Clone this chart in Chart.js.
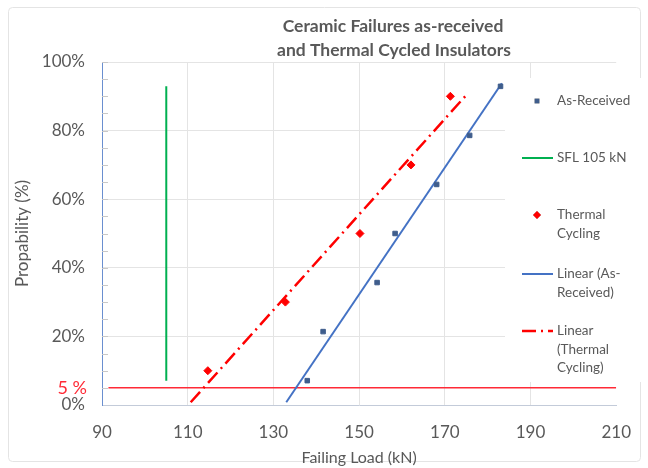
<!DOCTYPE html>
<html>
<head>
<meta charset="utf-8">
<title>Ceramic Failures</title>
<script src="https://cdn.jsdelivr.net/npm/chart.js@4.4.1/dist/chart.umd.min.js"></script>
<style>
  html, body { margin: 0; padding: 0; background: #fff; }
  #wrap { width: 648px; height: 468px; position: relative; }
</style>
</head>
<body>
<div id="wrap"><canvas id="failureChart"></canvas></div>
<script>
// Failing load (kN) and failure probability (%) per test
const asReceivedLoad = [137.9, 141.6, 154.2, 158.4, 168.1, 175.8, 183.0];
const asReceivedProb = [7.1, 21.4, 35.7, 50.0, 64.3, 78.6, 92.9];
const thermalLoad = [114.7, 132.8, 150.2, 162.1, 171.3];
const thermalProb = [10, 30, 50, 70, 90];

// trendline ends
const trendAsReceivedLoad = [133.0, 183.3];
const trendAsReceivedProb = [0.8, 93.8];
const trendThermalLoad = [110.7, 174.9];
const trendThermalProb = [0.8, 90.2];

// specified failing load and 5 % limit
const sflLoad = [105, 105];
const sflProb = [7.1, 92.9];
const limitLoad = [91.5, 210];
const limitProb = [5, 5];

const xTickLabels = [90, 110, 130, 150, 170, 190, 210];
const yTickLabels = [0, 20, 40, 60, 80, 100];

const GREY = '#595959';
const FONT = 'Lato, "Open Sans", sans-serif';

function toPoints(xs, ys) {
    return xs.map((x, i) => ({ x: x, y: ys[i] }));
}

// legend entries: dataset index + wrapped text lines
const legendItems = [
    { ds: 0, lines: ['As-Received'] },
    { ds: 1, lines: ['SFL 105 kN'] },
    { ds: 2, lines: ['Thermal', 'Cycling'] },
    { ds: 3, lines: ['Linear (As-', 'Received)'] },
    { ds: 4, lines: ['Linear', '(Thermal', 'Cycling)'] }
];
const legendRowY = [101, 158, 215, 274, 331];

const decorPlugin = {
    id: 'decor',
    beforeDraw(chart) {
        const c = chart.ctx;
        c.save();
        c.strokeStyle = '#e4e4e4';
        c.lineWidth = 1;
        c.beginPath();
        c.roundRect(8.5, 7.5, 632, 454, 4);
        c.stroke();
        c.restore();
    },
    beforeDatasetsDraw(chart) {
        const c = chart.ctx;
        const yScale = chart.scales.y;
        const area = chart.chartArea;
        c.save();
        // minor ticks every 5 %
        c.strokeStyle = '#c8c8c8';
        c.lineWidth = 1;
        for (let v = 5; v <= 100; v += 5) {
            const py = Math.round(yScale.getPixelForValue(v)) + 0.5;
            c.beginPath();
            c.moveTo(area.left, py);
            c.lineTo(area.left + 6, py);
            c.stroke();
        }
        // legend box, white, over the right part of the plot
        c.fillStyle = '#fff';
        c.fillRect(505, 78, 140, 304);

        c.font = '13.5px ' + FONT;
        c.fillStyle = GREY;
        c.textBaseline = 'middle';
        legendItems.forEach((item, k) => {
            const ds = chart.data.datasets[item.ds];
            const y = legendRowY[k];
            c.save();
            if (ds.showLine) {
                c.strokeStyle = ds.borderColor;
                c.lineWidth = ds.borderWidth;
                c.setLineDash(ds.borderDash || []);
                c.beginPath();
                c.moveTo(522, y);
                c.lineTo(553, y);
                c.stroke();
            } else {
                Chart.helpers.drawPoint(c, {
                    pointStyle: ds.pointStyle,
                    radius: ds.pointRadius,
                    borderWidth: 1
                }, 537, y);
                c.fillStyle = ds.backgroundColor;
                c.strokeStyle = ds.borderColor;
                c.fill();
            }
            c.restore();
            item.lines.forEach((t, j) => {
                c.fillText(t, 557, y + j * 18.5);
            });
        });
        c.restore();
    },
    afterDraw(chart) {
        const c = chart.ctx;
        const yScale = chart.scales.y;
        c.save();
        // title
        c.fillStyle = GREY;
        c.font = 'bold 17.5px ' + FONT;
        c.textAlign = 'center';
        c.textBaseline = 'middle';
        c.fillText('Ceramic Failures as-received', 393, 26);
        c.fillText('and Thermal Cycled Insulators', 394, 50);
        // 5 % label
        c.fillStyle = '#ff2a36';
        c.font = '18px ' + FONT;
        c.textAlign = 'right';
        c.fillText('5 %', 87, yScale.getPixelForValue(5));
        c.restore();
    }
};

new Chart(document.getElementById('failureChart'), {
    type: 'scatter',
    data: {
        datasets: [{
            label: 'As-Received',
            data: toPoints(asReceivedLoad, asReceivedProb),
            pointStyle: 'rect',
            pointRadius: 3.2,
            backgroundColor: '#3f5d8c',
            borderColor: '#3f5d8c',
            order: 1
        }, {
            label: 'SFL 105 kN',
            data: toPoints(sflLoad, sflProb),
            showLine: true,
            borderColor: '#00b050',
            borderWidth: 2,
            pointRadius: 0,
            order: 3
        }, {
            label: 'Thermal Cycling',
            data: toPoints(thermalLoad, thermalProb),
            pointStyle: 'rectRot',
            pointRadius: 4,
            backgroundColor: '#ff0000',
            borderColor: '#ff0000',
            order: 1
        }, {
            label: 'Linear (As-Received)',
            data: toPoints(trendAsReceivedLoad, trendAsReceivedProb),
            showLine: true,
            borderColor: '#4472c4',
            borderWidth: 2,
            pointRadius: 0,
            order: 2
        }, {
            label: 'Linear (Thermal Cycling)',
            data: toPoints(trendThermalLoad, trendThermalProb),
            showLine: true,
            borderColor: '#ff0000',
            borderWidth: 2.5,
            borderDash: [14, 5, 2, 5],
            pointRadius: 0,
            order: 2
        }, {
            label: '5 %',
            data: toPoints(limitLoad, limitProb),
            showLine: true,
            borderColor: '#ff2a36',
            borderWidth: 1.5,
            pointRadius: 0,
            order: 4
        }]
    },
    options: {
        responsive: true,
        maintainAspectRatio: false,
        animation: false,
        layout: { padding: { top: 62, right: 30, left: 0, bottom: 0 } },
        plugins: {
            legend: { display: false },
            title: { display: false },
            tooltip: { enabled: false }
        },
        scales: {
            x: {
                type: 'linear',
                min: xTickLabels[0],
                max: xTickLabels[xTickLabels.length - 1],
                afterBuildTicks: (scale) => {
                    scale.ticks = xTickLabels.map(v => ({ value: v }));
                },
                afterFit: (scale) => { scale.height = 63; },
                ticks: {
                    font: { family: FONT, size: 17 },
                    color: GREY,
                    padding: 17
                },
                grid: {
                    drawTicks: false,
                    color: (ctx) => (ctx.tick && (ctx.tick.value === 90 || ctx.tick.value === 210)) ? 'rgba(0,0,0,0)' : '#e4e4e4'
                },
                border: { color: '#c3cbd9', width: 1 },
                title: {
                    display: true,
                    text: 'Failing Load (kN)',
                    font: { family: FONT, size: 16 },
                    color: GREY,
                    padding: { top: 0, bottom: 1 }
                }
            },
            y: {
                type: 'linear',
                min: yTickLabels[0],
                max: yTickLabels[yTickLabels.length - 1],
                afterBuildTicks: (scale) => {
                    scale.ticks = yTickLabels.map(v => ({ value: v }));
                },
                afterFit: (scale) => { scale.width = 102; },
                ticks: {
                    font: { family: FONT, size: 17 },
                    color: GREY,
                    padding: 17,
                    callback: (v) => v + '%'
                },
                grid: {
                    drawTicks: false,
                    color: (ctx) => (ctx.tick && ctx.tick.value === 0) ? 'rgba(0,0,0,0)' : '#e4e4e4'
                },
                border: { color: '#6a8fd0', width: 1 },
                title: {
                    display: true,
                    text: 'Propability (%)',
                    font: { family: FONT, size: 17 },
                    color: GREY,
                    padding: { top: 12, bottom: 0 }
                }
            }
        }
    },
    plugins: [decorPlugin]
});
</script>
</body>
</html>
